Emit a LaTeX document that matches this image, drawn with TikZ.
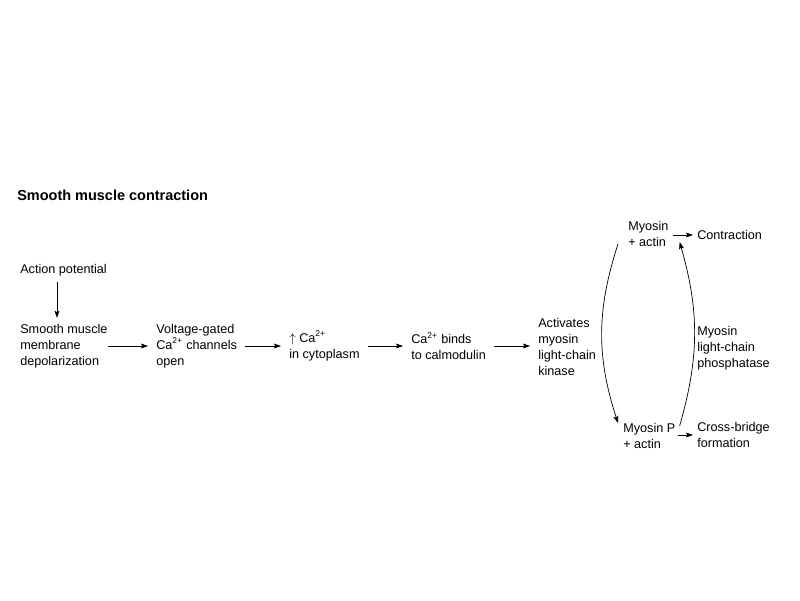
\documentclass[tikz,border=0pt]{standalone}
\usepackage{fontspec}
\setmainfont{Liberation Sans}
\usetikzlibrary{arrows.meta}

\begin{document}
\begin{tikzpicture}[
    stepnode/.style={anchor=west, align=left, inner xsep=0.2cm, inner ysep=0.15cm, font=\fontsize{9}{11.4}\selectfont},
    titlenode/.style={anchor=west, inner sep=0pt, font=\fontsize{10.3}{12}\selectfont\bfseries},
    flow/.style={-{Stealth[length=5pt, width=3.5pt, inset=1pt]}, line width=0.5pt}
]
    \useasboundingbox (0,0) rectangle (20,-15);

    % --- Title ---
    \node[titlenode] (title) at (0.425, -4.875) {Smooth muscle contraction};

    % --- Main chain ---
    \node[stepnode] (action) at (0.3, -6.75) {Action potential};
    \node[stepnode] (smc) at (0.3, -8.65) {Smooth muscle\\membrane\\depolarization};
    \node[stepnode] (vgc) at (3.7, -8.65) {Voltage-gated\\Ca\textsuperscript{2+} channels\\open};
    \node[stepnode] (ca) at (7.025, -8.65) {$\uparrow$ Ca\textsuperscript{2+}\\in cytoplasm};
    \node[stepnode] (cam) at (10.075, -8.65) {Ca\textsuperscript{2+} binds\\to calmodulin};
    \node[stepnode] (mlck) at (13.25, -8.675) {Activates\\myosin\\light-chain\\kinase};

    % --- Myosin cycle ---
    \node[stepnode] (myo) at (15.5, -5.85) {Myosin\\+ actin};
    \node[stepnode] (contr) at (17.225, -5.875) {Contraction};
    \node[stepnode] (myop) at (15.375, -10.9) {Myosin P\\+ actin};
    \node[stepnode] (cross) at (17.225, -10.875) {Cross-bridge\\formation};
    \node[stepnode] (mlcp) at (17.225, -8.7) {Myosin\\light-chain\\phosphatase};

    % --- Arrows ---
    \draw[flow] (action.south -| 1.425,0) -- (smc.north -| 1.425,0);
    \draw[flow, shorten <=-0.2cm] (smc.east) -- (smc.east -| vgc.west);
    \draw[flow] (vgc.east) -- (vgc.east -| ca.west);
    \draw[flow] (ca.east) -- (ca.east -| cam.west);
    \draw[flow] (cam.east) -- (cam.east -| mlck.west);
    \draw[flow, shorten <=-0.1cm, shorten >=-0.1cm] (myo.east |- contr.west) -- (contr.west);
    \draw[flow, shorten <=-0.15cm, shorten >=-0.1cm] (myop.east |- cross.west) -- (cross.west);
    \draw[flow] ([shift={(-0.05,-0.25)}]myo.west) to[bend right=18] ([shift={(0.075,0.325)}]myop.west);
    \draw[flow] ([shift={(-0.1,0.25)}]myop.east) to[bend right=16] ([shift={(0.075,-0.2)}]myo.east);

\end{tikzpicture}
\end{document}
